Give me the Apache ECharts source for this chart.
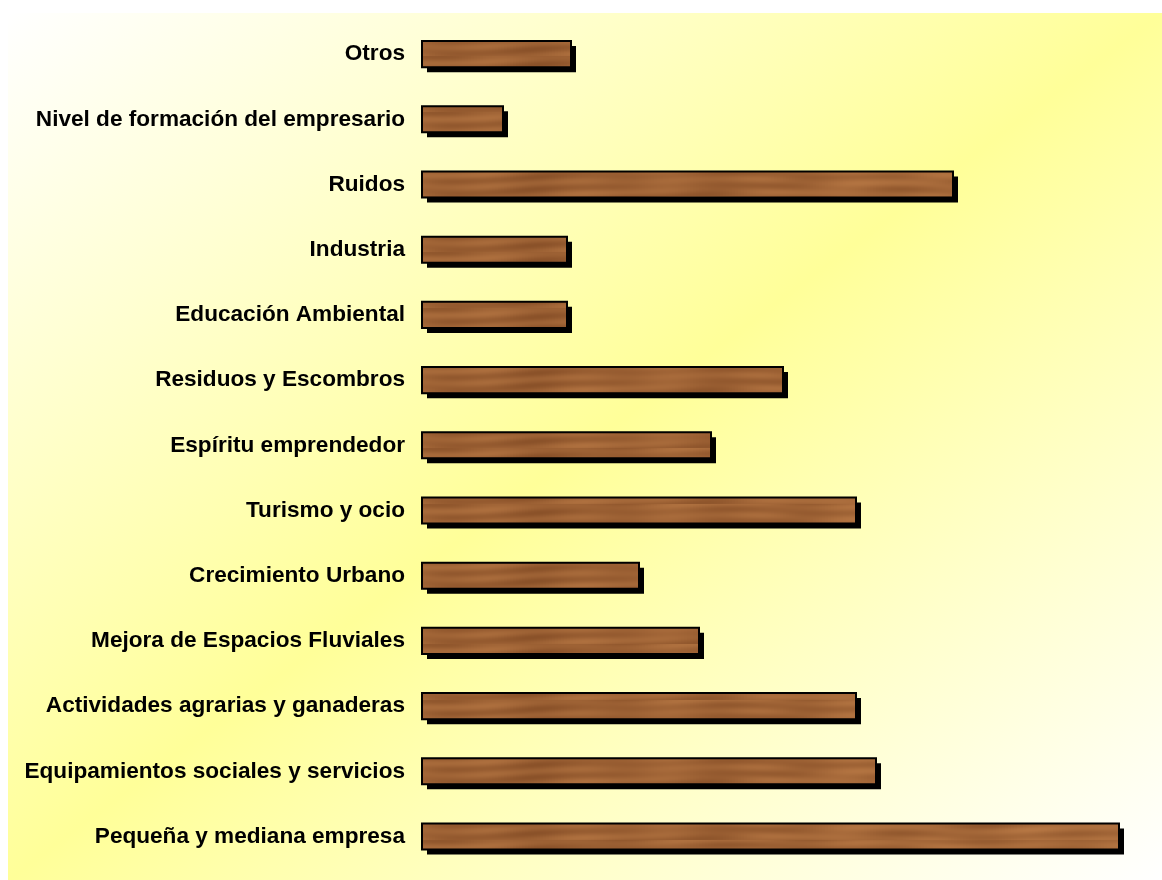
<!DOCTYPE html>
<html>
<head>
<meta charset="utf-8">
<script src="https://cdn.jsdelivr.net/npm/echarts@6/dist/echarts.min.js"></script>
<style>
html,body{margin:0;padding:0;background:#fff;}
#chart{width:1162px;height:880px;}
</style>
</head>
<body>
<div id="chart"></div>
<script>
const categories = [
  'Otros',
  'Nivel de formación del empresario',
  'Ruidos',
  'Industria',
  'Educación Ambiental',
  'Residuos y Escombros',
  'Espíritu emprendedor',
  'Turismo y ocio',
  'Crecimiento Urbano',
  'Mejora de Espacios Fluviales',
  'Actividades agrarias y ganaderas',
  'Equipamientos sociales y servicios',
  'Pequeña y mediana empresa'
];
const values = [14.9, 8.1, 53.1, 14.5, 14.5, 36.1, 28.9, 43.4, 21.7, 27.7, 43.4, 45.4, 69.7];

// wood texture pattern (deterministic, no randomness)
function woodPattern() {
  const c = document.createElement('canvas');
  c.width = 1200; c.height = 28;
  const g = c.getContext('2d');
  for (let y = 0; y < c.height; y++) {
    for (let x = 0; x < c.width; x += 3) {
      const grain = Math.sin(y * 0.55 + Math.sin(x * 0.011) * 1.8 + Math.sin(x * 0.037) * 0.6);
      const mott = Math.sin(x * 0.053 + y * 0.21) * Math.sin(x * 0.017 - y * 0.19);
      const band = Math.sin(x * 0.0063 + 1.3) * 0.5 + Math.sin(x * 0.029 + y * 0.12) * 0.5;
      const v = grain * 0.3 + mott * 0.45 + band * 0.45;
      const r = Math.round(160 + v * 20);
      const gg = Math.round(100 + v * 17);
      const b = Math.round(54 + v * 12);
      g.fillStyle = 'rgb(' + r + ',' + gg + ',' + b + ')';
      g.fillRect(x, y, 3, 1);
    }
  }
  return c;
}
const woodImg = woodPattern();

const chart = echarts.init(document.getElementById('chart'), null, {renderer: 'canvas'});
chart.setOption({
  animation: false,
  backgroundColor: '#ffffff',
  graphic: [{
    type: 'rect',
    z: -10,
    silent: true,
    shape: {x: 8, y: 13, width: 1154, height: 867},
    style: {
      fill: new echarts.graphic.LinearGradient(8, 13, 840.7, 1121.4, [
        {offset: 0, color: '#ffffff'},
        {offset: 0.5, color: '#ffff99'},
        {offset: 1, color: '#ffffff'}
      ], true)
    }
  }],
  grid: {left: 422, top: 21.5, width: 700, height: 847.6, containLabel: false},
  xAxis: {
    type: 'value', min: 0, max: 70,
    show: false
  },
  yAxis: {
    type: 'category',
    data: categories,
    inverse: true,
    axisLine: {show: false},
    axisTick: {show: false},
    axisLabel: {
      margin: 17,
      color: '#000',
      fontFamily: 'Liberation Sans, Arial, sans-serif',
      fontWeight: 'bold',
      fontSize: 22.6
    }
  },
  series: [{
    type: 'custom',
    data: values.map((v, i) => [v, i]),
    encode: {x: 0, y: 1},
    renderItem: function (params, api) {
      const val = api.value(0);
      const idx = api.value(1);
      const p0 = api.coord([0, idx]);
      const p1 = api.coord([val, idx]);
      const h = api.size([0, 1])[1] * 0.4;
      const x = p0[0], y = p0[1] - h / 2, w = p1[0] - p0[0];
      return {
        type: 'group',
        children: [
          {type: 'rect', shape: {x: x + 5, y: y + 5, width: w, height: h},
           style: {fill: '#000'}},
          {type: 'rect', shape: {x: x, y: y, width: w, height: h},
           style: {fill: {image: woodImg, repeat: 'repeat'}, stroke: '#000', lineWidth: 2}}
        ]
      };
    }
  }]
});
</script>
</body>
</html>
